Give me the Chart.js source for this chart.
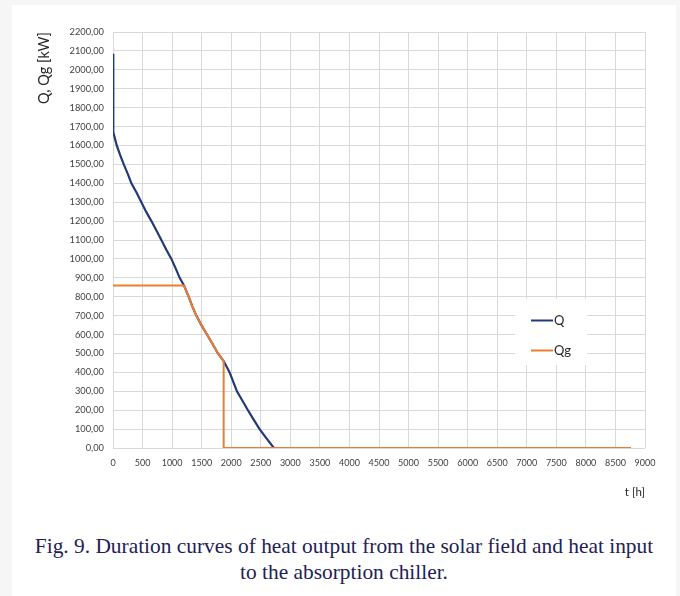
<!DOCTYPE html>
<html>
<head>
<meta charset="utf-8">
<script src="https://cdn.jsdelivr.net/npm/chart.js@4.4.1/dist/chart.umd.min.js"></script>
<style>
    html, body { margin: 0; padding: 0; }
    body { width: 680px; height: 596px; background: #f6f6f6; position: relative; overflow: hidden; }
    .card { position: absolute; left: 12px; top: 5px; width: 664px; height: 600px; background: #fff; }
    .plot { position: absolute; left: 0; top: 0; width: 680px; height: 510px; }
    .caption {
        position: absolute; left: 12px; top: 533px; width: 664px;
        text-align: center; font-family: "Liberation Serif", "Times New Roman", serif;
        font-size: 21.4px; line-height: 26px; color: #1f2156;
    }
</style>
</head>
<body>
<div class="card"></div>
<div class="plot"><canvas id="duration-chart"></canvas></div>
<div class="caption">Fig. 9. Duration curves of heat output from the solar field and heat input<br>to the absorption chiller.</div>
<script>
(function() {
    'use strict';

    // Q - heat output from the solar field (duration curve)
    var tQ = [0, 5, 30, 63, 120, 182, 250, 311, 400, 480, 560, 650, 735, 818, 900, 988, 1060, 1128,
              1201, 1280, 1340, 1410, 1495, 1590, 1685, 1776, 1872, 1973, 2035, 2097, 2190, 2283,
              2380, 2480, 2600, 2722, 8760];
    var qQ = [2085, 1670, 1640, 1600, 1550, 1500, 1450, 1400, 1350, 1300, 1250, 1200, 1150, 1100, 1050,
              1000, 950, 900, 860, 800, 750, 700, 650, 600, 550, 500, 460, 400, 350, 300, 250, 200,
              150, 100, 50, 0, 0];

    // Qg - heat input to the absorption chiller
    var tQg = [0, 1201, 1280, 1340, 1410, 1495, 1590, 1685, 1776, 1872, 1872, 8760];
    var qQg = [860, 860, 800, 750, 700, 650, 600, 550, 500, 460, 0, 0];

    var seriesNames = ['Q', 'Qg'];
    var seriesColors = ['#22397a', '#ed7d31'];

    var xMax = 9000, xStep = 500;
    var yMax = 2200, yStep = 100;

    function toPoints(xs, ys) {
        var pts = [];
        for (var i = 0; i < xs.length; i++) {
            pts.push({ x: xs[i], y: ys[i] });
        }
        return pts;
    }

    // legend drawn inside the plot, like the Excel original
    var innerLegend = {
        id: 'innerLegend',
        afterDraw: function(chart) {
            var ctx = chart.ctx;
            ctx.save();
            ctx.fillStyle = '#ffffff';
            ctx.fillRect(515, 299, 72, 66);
            ctx.font = '13px Lato, "Open Sans", sans-serif';
            ctx.textBaseline = 'middle';
            ctx.textAlign = 'left';
            for (var i = 0; i < seriesNames.length; i++) {
                var y = 320.5 + i * 30;
                ctx.strokeStyle = seriesColors[i];
                ctx.lineWidth = 2;
                ctx.beginPath();
                ctx.moveTo(531, y);
                ctx.lineTo(553, y);
                ctx.stroke();
                ctx.fillStyle = '#262626';
                ctx.fillText(seriesNames[i], 554, y + 0.5);
            }
            ctx.restore();
        }
    };

    function init() {
        var canvas = document.getElementById('duration-chart');
        if (!canvas) return;

        new Chart(canvas.getContext('2d'), {
            type: 'line',
            data: {
                datasets: [
                    {
                        label: seriesNames[0],
                        data: toPoints(tQ, qQ),
                        borderColor: seriesColors[0],
                        borderWidth: 2.2,
                        pointRadius: 0,
                        tension: 0,
                        order: 1
                    },
                    {
                        label: seriesNames[1],
                        data: toPoints(tQg, qQg),
                        borderColor: seriesColors[1],
                        borderWidth: 2,
                        pointRadius: 0,
                        tension: 0,
                        order: 0
                    }
                ]
            },
            options: {
                responsive: true,
                maintainAspectRatio: false,
                animation: false,
                layout: {
                    padding: { left: 30, top: 32, right: 35, bottom: 0 }
                },
                scales: {
                    x: {
                        type: 'linear',
                        min: 0,
                        max: xMax,
                        afterFit: function(axis) { axis.height = 62; },
                        grid: { color: '#d9d9d9', drawTicks: false },
                        border: { display: false },
                        ticks: {
                            stepSize: xStep,
                            padding: 10,
                            color: '#404040',
                            font: { family: 'Lato, "Open Sans", sans-serif', size: 9 },
                            maxRotation: 0,
                            autoSkip: false,
                            callback: function(v) { return String(v); }
                        },
                        title: {
                            display: true,
                            text: 't [h]',
                            align: 'end',
                            color: '#262626',
                            font: { family: 'Lato, "Open Sans", sans-serif', size: 11.5 },
                            padding: { top: 0, bottom: 11 }
                        }
                    },
                    y: {
                        min: 0,
                        max: yMax,
                        afterFit: function(axis) { axis.width = 83; },
                        grid: { color: '#d9d9d9', drawTicks: false },
                        border: { display: false },
                        ticks: {
                            stepSize: yStep,
                            padding: 9,
                            color: '#404040',
                            font: { family: 'Lato, "Open Sans", sans-serif', size: 9.3 },
                            autoSkip: false,
                            callback: function(v) { return v.toFixed(2).replace('.', ','); }
                        },
                        title: {
                            display: true,
                            text: 'Q, Qg [kW]',
                            align: 'end',
                            color: '#262626',
                            font: { family: 'Lato, "Open Sans", sans-serif', size: 14.5 },
                            padding: { top: 6, bottom: 0 }
                        }
                    }
                },
                plugins: {
                    legend: { display: false },
                    tooltip: { enabled: false }
                }
            },
            plugins: [innerLegend]
        });
    }

    if (document.readyState === 'loading') {
        document.addEventListener('DOMContentLoaded', init);
    } else {
        init();
    }
})();
</script>
</body>
</html>
